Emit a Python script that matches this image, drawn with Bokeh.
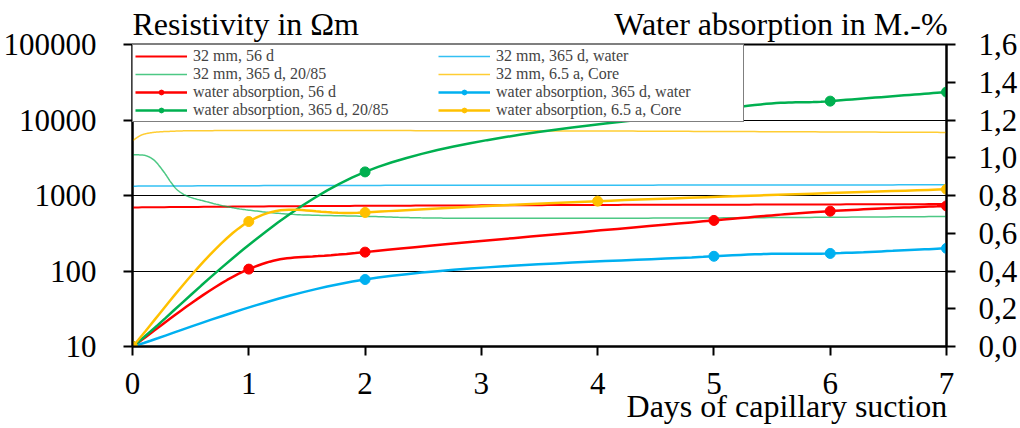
from bokeh.plotting import figure
from bokeh.models import (Range1d, LinearAxis, LinearScale, FixedTicker, CustomJSTickFormatter,
                          Legend, LegendItem)
from bokeh.embed import file_html
from bokeh.resources import INLINE
import numpy as np

# ---------------- data ----------------
x_ticks = [0, 1, 2, 3, 4, 5, 6, 7]
left_ticks = [10, 100, 1000, 10000, 100000]
right_ticks = [0.0, 0.2, 0.4, 0.6, 0.8, 1.0, 1.2, 1.4, 1.6]

# titles (text, position along x in days where the text is centred)
top_titles = ["Resistivity in Ωm", "Water absorption in M.-%"]
top_title_pos = [0.974, 5.576]
bottom_titles = ["Days of capillary suction"]
bottom_title_pos = [5.628]

# resistivity in Ohm m (left, log axis)
res_56d_days = [0, 1, 2, 3, 4, 5, 6, 7]
res_56d_vals = [695, 715, 730, 740, 750, 755, 762, 770]

res_365w_days = [0, 1, 2, 3, 4, 5, 6, 7]
res_365w_vals = [1330, 1350, 1360, 1370, 1370, 1375, 1380, 1385]

res_2085_days = [0, 0.06, 0.12, 0.19, 0.27, 0.33, 0.39, 0.48, 0.62, 0.8, 1.0, 1.4, 2, 2.5, 3, 4, 5, 6, 7]
res_2085_vals = [3450, 3450, 3350, 2900, 2050, 1500, 1170, 970, 840, 720, 640, 560, 530, 505, 500, 500, 505, 515, 527]

res_core_days = [0, 0.05, 0.1, 0.2, 0.35, 0.5, 1, 2, 3, 4, 5, 6, 7]
res_core_vals = [5300, 6000, 6500, 6900, 7100, 7200, 7250, 7250, 7200, 7150, 7050, 6950, 6850]

# water absorption in M.-% (right axis)
wa_56d_days = [0, 1, 2, 5, 6, 7]
wa_56d_vals = [0.0, 0.41, 0.50, 0.668, 0.717, 0.745]

wa_365w_days = [0, 2, 5, 6, 7]
wa_365w_vals = [0.0, 0.355, 0.478, 0.493, 0.52]

wa_2085_days = [0, 2, 5, 6, 7]
wa_2085_vals = [0.0, 0.925, 1.25, 1.30, 1.348]

wa_core_days = [0, 1, 2, 4, 7]
wa_core_vals = [0.0, 0.662, 0.71, 0.77, 0.833]

RED, GREEN, BLUE, ORANGE = "#FF0000", "#00B050", "#00B0F0", "#FFC000"
FONT = "Liberation Serif"
FS_TICK = "31px"
FS_TITLE = "32px"


def smooth(xs, ys, log=False, n=24):
    """Excel-like smoothed line (Catmull-Rom style Bezier) for drawing."""
    ys = np.log10(ys) if log else np.asarray(ys, dtype=float)
    pts = list(zip(xs, ys))
    ox, oy = [pts[0][0]], [pts[0][1]]
    for i in range(len(pts) - 1):
        p0 = pts[i - 1] if i > 0 else pts[i]
        p1, p2 = pts[i], pts[i + 1]
        p3 = pts[i + 2] if i + 2 < len(pts) else pts[i + 1]
        c1 = (p1[0] + (p2[0] - p0[0]) / 6, p1[1] + (p2[1] - p0[1]) / 6)
        c2 = (p2[0] - (p3[0] - p1[0]) / 6, p2[1] - (p3[1] - p1[1]) / 6)
        for t in np.linspace(0, 1, n)[1:]:
            a, b, c, d = (1 - t) ** 3, 3 * (1 - t) ** 2 * t, 3 * (1 - t) * t ** 2, t ** 3
            ox.append(a * p1[0] + b * c1[0] + c * c2[0] + d * p2[0])
            oy.append(a * p1[1] + b * c1[1] + c * c2[1] + d * p2[1])
    oy = np.asarray(oy)
    return ox, (10 ** oy if log else oy)


p = figure(width=1020, height=428, x_range=Range1d(0, 7), y_range=Range1d(10, 100000),
           y_axis_type="log", output_backend="svg", toolbar_location=None,
           min_border_left=131, min_border_right=73, min_border_top=44, min_border_bottom=82)
p.extra_y_ranges = {"wa": Range1d(0, 1.6)}
p.extra_y_scales = {"wa": LinearScale()}
p.outline_line_color = "black"
p.outline_line_width = 2
p.background_fill_color = "white"
p.border_fill_color = "white"

right = LinearAxis(y_range_name="wa")
p.add_layout(right, "right")

p.xaxis[0].ticker = FixedTicker(ticks=x_ticks)
p.yaxis[0].ticker = FixedTicker(ticks=left_ticks)
right.ticker = FixedTicker(ticks=right_ticks)
p.yaxis[0].formatter = CustomJSTickFormatter(code="return tick.toFixed(0);")
right.formatter = CustomJSTickFormatter(code="return tick.toFixed(1).replace('.', ',');")

for ax in [p.xaxis[0], p.yaxis[0], right]:
    ax.axis_line_width = 2
    ax.axis_line_color = "black"
    ax.major_tick_line_width = 2
    ax.major_tick_line_color = "black"
    ax.major_tick_out = 9
    ax.major_tick_in = 0
    ax.minor_tick_out = 0
    ax.minor_tick_in = 0
    ax.major_label_text_font = FONT
    ax.major_label_text_font_size = FS_TICK
    ax.major_label_text_color = "black"
p.xaxis[0].major_label_standoff = 17
p.yaxis[0].major_label_standoff = 27
right.major_label_standoff = 23


def text_axis(texts, pos, standoff):
    ax = LinearAxis(ticker=FixedTicker(ticks=pos),
                    formatter=CustomJSTickFormatter(args=dict(t=texts), code="return t[index];"))
    ax.axis_line_color = None
    ax.major_tick_out = 0
    ax.major_tick_in = 0
    ax.minor_tick_out = 0
    ax.minor_tick_in = 0
    ax.major_label_standoff = standoff
    ax.major_label_text_font = FONT
    ax.major_label_text_font_size = FS_TITLE
    ax.major_label_text_color = "black"
    return ax


p.add_layout(text_axis(top_titles, top_title_pos, 3), "above")
p.add_layout(text_axis(bottom_titles, bottom_title_pos, -9), "below")

p.xgrid.visible = False
p.ygrid.ticker = FixedTicker(ticks=left_ticks)
p.ygrid.grid_line_color = "black"
p.ygrid.grid_line_width = 1

# resistivity curves
r1 = p.line(*smooth(res_56d_days, res_56d_vals, log=True), color=RED, line_width=2)
r2 = p.line(*smooth(res_365w_days, res_365w_vals, log=True), color=BLUE, line_width=1.5, line_alpha=0.8)
r3 = p.line(*smooth(res_2085_days, res_2085_vals, log=True), color=GREEN, line_width=1.5, line_alpha=0.7)
r4 = p.line(*smooth(res_core_days, res_core_vals, log=True), color=ORANGE, line_width=1.5, line_alpha=0.8)

# water absorption curves
wa = []
for d, v, c in [(wa_56d_days, wa_56d_vals, RED), (wa_365w_days, wa_365w_vals, BLUE),
                (wa_2085_days, wa_2085_vals, GREEN), (wa_core_days, wa_core_vals, ORANGE)]:
    ln = p.line(*smooth(d, v), color=c, line_width=2.5, y_range_name="wa")
    sc = p.scatter(d, v, size=10, color=c, y_range_name="wa")
    wa.append([ln, sc])

items_rowmajor = [
    ("32 mm, 56 d", [r1]), ("32 mm, 365 d, water", [r2]),
    ("32 mm, 365 d, 20/85", [r3]), ("32 mm, 6.5 a, Core", [r4]),
    ("water absorption, 56 d", wa[0]), ("water absorption, 365 d, water", wa[1]),
    ("water absorption, 365 d, 20/85", wa[2]), ("water absorption, 6.5 a, Core", wa[3]),
]
order = [0, 2, 4, 6, 1, 3, 5, 7]
legend = Legend(items=[LegendItem(label=items_rowmajor[i][0], renderers=items_rowmajor[i][1]) for i in order],
                location="top_left", orientation="vertical", nrows=4,
                border_line_color="black", border_line_width=1, background_fill_alpha=1,
                margin=0, padding=2, spacing=0, label_text_font=FONT, label_text_font_size="16px",
                glyph_width=52, glyph_height=12, label_height=12, label_standoff=6, label_width=245)
p.add_layout(legend)

open("out.html", "w", encoding="utf-8").write(file_html(p, INLINE))
